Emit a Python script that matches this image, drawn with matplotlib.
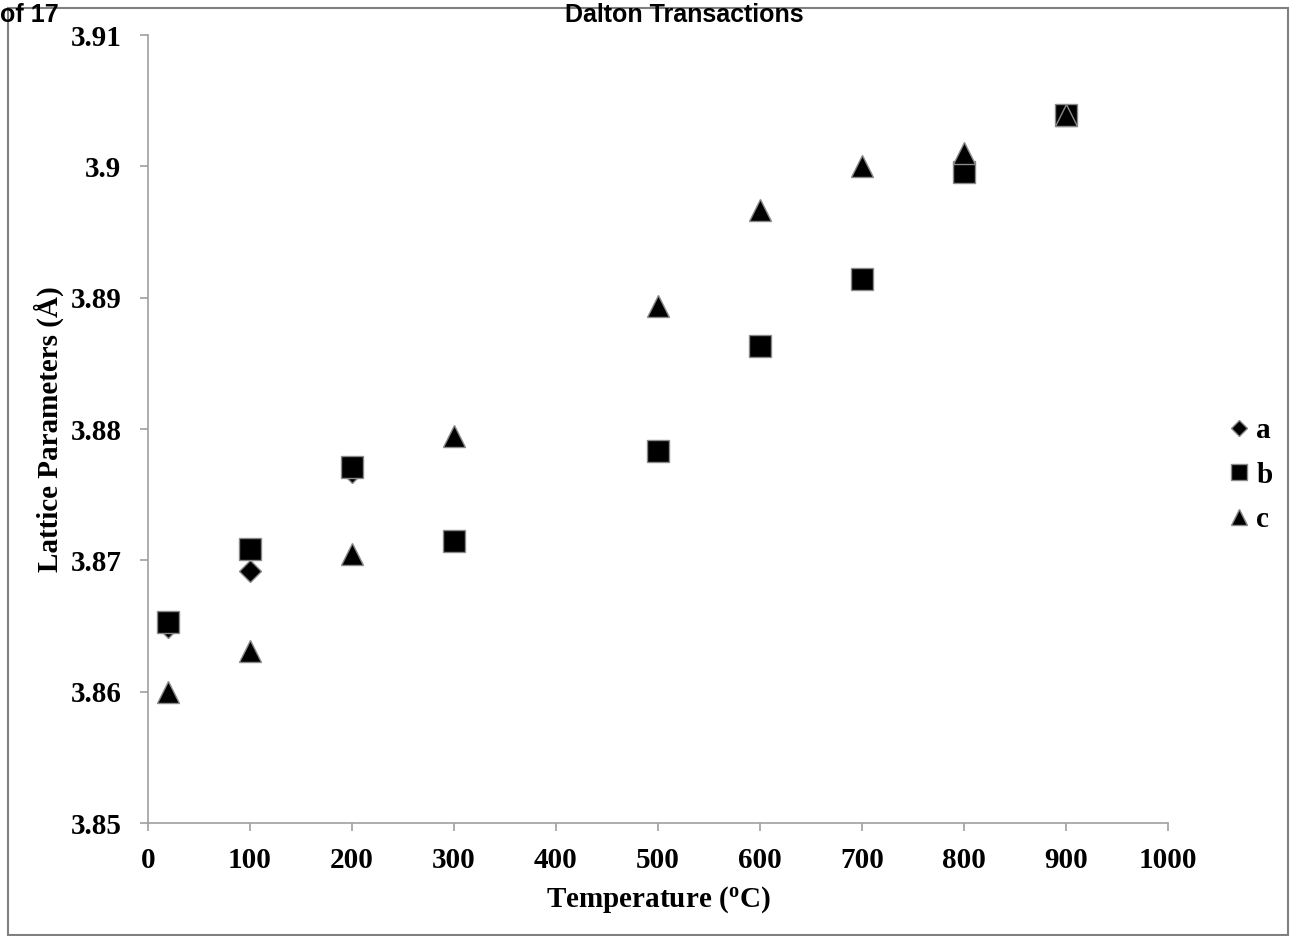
import matplotlib.pyplot as plt
from matplotlib.patches import Rectangle

plt.rcParams['font.family'] = ['Liberation Serif', 'DejaVu Serif']
plt.rcParams['font.weight'] = 'bold'
plt.rcParams['mathtext.fontset'] = 'custom'
plt.rcParams['mathtext.rm'] = 'Liberation Serif:bold'
plt.rcParams['mathtext.it'] = 'Liberation Serif:bold'

temps = [20, 100, 200, 300, 500, 600, 700, 800, 900]
a_vals = [3.8649, 3.8692, 3.8767, 3.8715, 3.8783, 3.8863, 3.8914, 3.8996, 3.9039]
b_vals = [3.8653, 3.8709, 3.8771, 3.8715, 3.8783, 3.8863, 3.8914, 3.8996, 3.9039]
c_vals = [3.8600, 3.8631, 3.8705, 3.8795, 3.8894, 3.8967, 3.9000, 3.9010, 3.9039]

x_ticks = [0, 100, 200, 300, 400, 500, 600, 700, 800, 900, 1000]
y_ticks = [3.85, 3.86, 3.87, 3.88, 3.89, 3.90, 3.91]
y_labels = ['3.85', '3.86', '3.87', '3.88', '3.89', '3.9', '3.91']

fig = plt.figure(figsize=(12.91, 9.36), dpi=100)
ax = fig.add_axes([0.1146, 0.1207, 0.7901, 0.8419])

edge = '#8a8a8a'
ax.plot(temps, a_vals, linestyle='none', marker='D', markersize=11.5,
        markerfacecolor='black', markeredgecolor=edge, markeredgewidth=1, label='a')
ax.plot(temps, b_vals, linestyle='none', marker='s', markersize=16,
        markerfacecolor='black', markeredgecolor=edge, markeredgewidth=1, label='b')
ax.plot(temps, c_vals, linestyle='none', marker='^', markersize=16.5,
        markerfacecolor='black', markeredgecolor=edge, markeredgewidth=1, label='c')

ax.set_xlim(0, 1000)
ax.set_ylim(3.85, 3.91)
ax.set_xticks(x_ticks)
ax.set_yticks(y_ticks)
ax.set_yticklabels(y_labels)

for s in ['top', 'right']:
    ax.spines[s].set_visible(False)
for s in ['left', 'bottom']:
    ax.spines[s].set_color('#a0a0a0')
    ax.spines[s].set_linewidth(1.2)
ax.tick_params(axis='both', direction='out', length=6, width=1.2, color='#a0a0a0',
               labelsize=21)
ax.tick_params(axis='y', pad=13)
ax.tick_params(axis='x', pad=11)

ax.set_xlabel('Temperature ($^{\\mathrm{o}}$C)', fontsize=21, fontweight='bold', labelpad=8)
ax.set_ylabel('Lattice Parameters (Å)', fontsize=21, fontweight='bold', labelpad=5)

leg = ax.legend(loc='center left', bbox_to_anchor=(0.9415, 0.4925),
                bbox_transform=fig.transFigure, frameon=False, fontsize=21,
                markerscale=0.72, handlelength=0.6, handletextpad=0.3,
                labelspacing=0.6, borderpad=0)

# page header and frame
fig.text(0.0, 0.984, 'of 17', fontsize=18, fontweight='bold', family='Liberation Sans',
         ha='left', va='center')
fig.text(0.53, 0.984, 'Dalton Transactions', fontsize=18, fontweight='bold',
         family='Liberation Sans', ha='center', va='center')
fig.patches.append(Rectangle((8 / 1291, 0.001), 1280 / 1291, 1 - 9 / 936,
                             transform=fig.transFigure, fill=False,
                             edgecolor='#808080', linewidth=1.5, zorder=-1))

fig.savefig('out.png', dpi=100)
